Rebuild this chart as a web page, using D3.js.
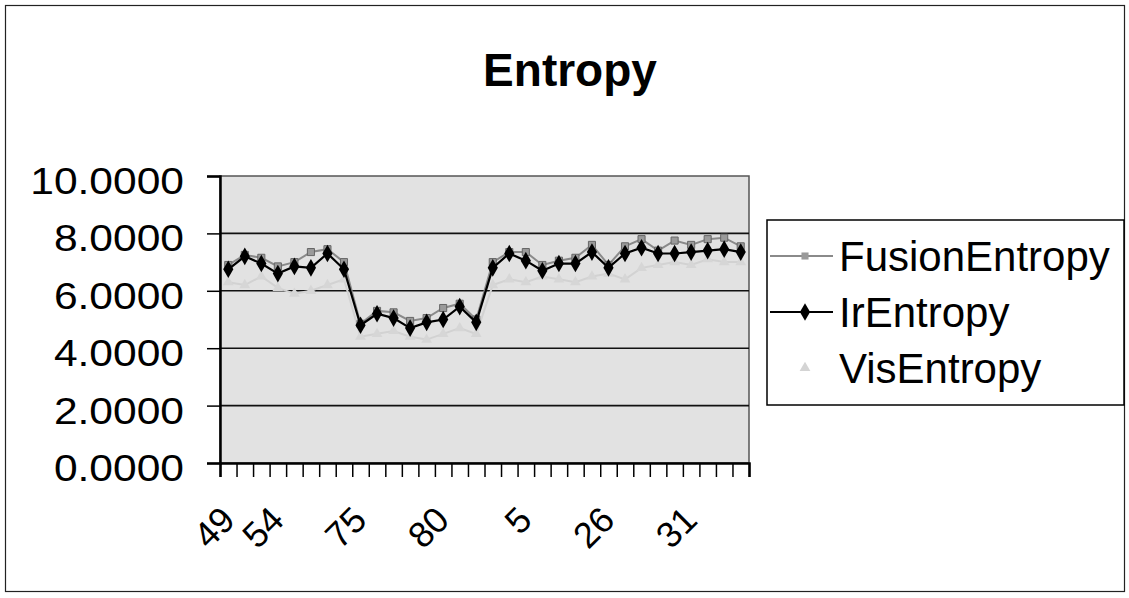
<!DOCTYPE html>
<html>
<head>
<meta charset="utf-8">
<script src="https://cdn.jsdelivr.net/npm/d3@7"></script>
<style>
  html, body { margin: 0; padding: 0; background: #fff; }
  text { font-family: "Liberation Sans", Arial, sans-serif; }
</style>
</head>
<body>
<div id="chart"></div>
<script>
// image ids along the x axis
const categories = [49, 50, 51, 52, 53, 54, 55, 56,
                    73, 74, 75, 76, 77, 78, 79, 80,
                    1, 2, 3, 4, 5,
                    22, 23, 24, 25, 26, 27, 28, 29, 30, 31, 32];

const fusionEntropy = [6.90, 7.25, 7.15, 6.85, 7.00, 7.35, 7.45, 7.00,
                       4.85, 5.30, 5.25, 4.95, 5.05, 5.40, 5.55, 5.00,
                       7.00, 7.35, 7.35, 6.90, 7.05, 7.15, 7.60, 6.90,
                       7.55, 7.80, 7.40, 7.75, 7.60, 7.80, 7.85, 7.55];

const irEntropy = [6.75, 7.20, 6.95, 6.60, 6.85, 6.80, 7.30, 6.75,
                   4.80, 5.20, 5.05, 4.70, 4.90, 5.00, 5.45, 4.90,
                   6.80, 7.30, 7.05, 6.70, 6.95, 6.95, 7.35, 6.80,
                   7.30, 7.50, 7.30, 7.30, 7.35, 7.40, 7.45, 7.35];

const visEntropy = [6.30, 6.20, 6.50, 6.10, 5.90, 6.00, 6.20, 6.40,
                    4.40, 4.50, 4.60, 4.40, 4.30, 4.50, 4.70, 4.50,
                    6.20, 6.40, 6.30, 6.50, 6.40, 6.30, 6.50, 6.60,
                    6.40, 6.80, 6.90, 7.00, 6.90, 7.10, 7.00, 7.00];

const yTicks = [0, 2, 4, 6, 8, 10];
const xLabelIdx = [0, 5, 10, 15, 20, 25, 30];
const seriesNames = ["FusionEntropy", "IrEntropy", "VisEntropy"];

const width = 1129, height = 598;
const plot = { left: 220, right: 749, top: 176, bottom: 463 };

const svg = d3.select("#chart").append("svg")
              .attr("width", width)
              .attr("height", height);

// outer frame
svg.append("rect")
   .attr("x", 5.5).attr("y", 5.5)
   .attr("width", 1119).attr("height", 586)
   .attr("fill", "none")
   .attr("stroke", "#222")
   .attr("stroke-width", 1.2);

// title
svg.append("text")
   .attr("x", 570).attr("y", 86)
   .attr("text-anchor", "middle")
   .attr("font-size", 46)
   .attr("font-weight", "bold")
   .text("Entropy");

// scales
const x = d3.scaleBand()
            .domain(d3.range(categories.length))
            .range([plot.left, plot.right]);
const xEdge = d3.scaleLinear()
                .domain([0, categories.length])
                .range([plot.left, plot.right]);
const y = d3.scaleLinear()
            .domain([0, 10])
            .range([plot.bottom, plot.top]);
const cx = i => x(i) + x.bandwidth() / 2;

// plot area background
svg.append("rect")
   .attr("x", plot.left).attr("y", plot.top)
   .attr("width", plot.right - plot.left)
   .attr("height", plot.bottom - plot.top)
   .attr("fill", "#e2e2e2")
   .attr("stroke", "#555")
   .attr("stroke-width", 1.5);

// gridlines
svg.append("g")
   .selectAll("line")
   .data(yTicks.filter(d => d > 0 && d < 10))
   .enter()
   .append("line")
   .attr("x1", plot.left).attr("x2", plot.right)
   .attr("y1", d => y(d)).attr("y2", d => y(d))
   .attr("stroke", "#111")
   .attr("stroke-width", 1.6);

// y axis
const yAxis = svg.append("g")
   .attr("transform", `translate(${plot.left}, 0)`)
   .call(d3.axisLeft(y).tickValues(yTicks).tickSize(13).tickFormat(""));
yAxis.select(".domain").attr("stroke", "#000").attr("stroke-width", 2.5);
yAxis.selectAll(".tick line").attr("stroke", "#000").attr("stroke-width", 1.5);

svg.append("g")
   .selectAll("text")
   .data(yTicks)
   .enter()
   .append("text")
   .attr("transform", d => `translate(184, ${y(d) + 18}) scale(1.15, 1)`)
   .attr("text-anchor", "end")
   .attr("font-size", 37)
   .text(d => d3.format(".4f")(d));

// x axis
const xAxis = svg.append("g")
   .attr("transform", `translate(0, ${plot.bottom})`)
   .call(d3.axisBottom(xEdge).tickValues(d3.range(categories.length + 1)).tickSize(14).tickFormat(""));
xAxis.select(".domain").attr("stroke", "#000").attr("stroke-width", 2.5);
xAxis.selectAll(".tick line").attr("stroke", "#000").attr("stroke-width", 1.5);

// rotated labels, the first one is pushed right so it stays under the axis
svg.append("g")
   .selectAll("text")
   .data(xLabelIdx)
   .enter()
   .append("text")
   .attr("transform", d => `translate(${Math.max(cx(d) - 25, plot.left + 17)}, 522) rotate(-45)`)
   .attr("text-anchor", "end")
   .attr("font-size", 36)
   .text(d => categories[d]);

// series
const line = d3.line()
               .x((d, i) => cx(i))
               .y(d => y(d));

const diamond = d3.symbol().type(d3.symbolDiamond).size(90);
const square = d3.symbol().type(d3.symbolSquare).size(50);
const triangle = d3.symbol().type(d3.symbolTriangle).size(50);

// VisEntropy (very light, almost lost in the background)
svg.append("path")
   .attr("d", line(visEntropy))
   .attr("fill", "none")
   .attr("stroke", "#d2d2d2")
   .attr("stroke-width", 2);
svg.append("g")
   .selectAll("path")
   .data(visEntropy)
   .enter()
   .append("path")
   .attr("transform", (d, i) => `translate(${cx(i)}, ${y(d)})`)
   .attr("d", triangle)
   .attr("fill", "#d6d6d6");

// FusionEntropy
svg.append("path")
   .attr("d", line(fusionEntropy))
   .attr("fill", "none")
   .attr("stroke", "#8a8a8a")
   .attr("stroke-width", 2);
svg.append("g")
   .selectAll("path")
   .data(fusionEntropy)
   .enter()
   .append("path")
   .attr("transform", (d, i) => `translate(${cx(i)}, ${y(d)})`)
   .attr("d", square)
   .attr("fill", "#9a9a9a")
   .attr("stroke", "#666")
   .attr("stroke-width", 1);

// IrEntropy
svg.append("path")
   .attr("d", line(irEntropy))
   .attr("fill", "none")
   .attr("stroke", "#000")
   .attr("stroke-width", 2.2);
svg.append("g")
   .selectAll("path")
   .data(irEntropy)
   .enter()
   .append("path")
   .attr("transform", (d, i) => `translate(${cx(i)}, ${y(d)})`)
   .attr("d", diamond)
   .attr("fill", "#000");

// legend
const legend = svg.append("g");
legend.append("rect")
      .attr("x", 767).attr("y", 220)
      .attr("width", 357).attr("height", 185)
      .attr("fill", "#fff")
      .attr("stroke", "#000")
      .attr("stroke-width", 1.5);

const legendY = [256, 312, 368];
const legendLine = [{ stroke: "#8a8a8a", sym: square, fill: "#9a9a9a" },
                    { stroke: "#000", sym: diamond, fill: "#000" },
                    { stroke: null, sym: triangle, fill: "#d4d4d4" }];

seriesNames.forEach((name, i) => {
    const st = legendLine[i];
    if (st.stroke) {
        legend.append("line")
              .attr("x1", 770).attr("x2", 833)
              .attr("y1", legendY[i]).attr("y2", legendY[i])
              .attr("stroke", st.stroke)
              .attr("stroke-width", 2);
    }
    legend.append("path")
          .attr("transform", `translate(805, ${legendY[i]})`)
          .attr("d", st.sym)
          .attr("fill", st.fill);
    legend.append("text")
          .attr("x", 839).attr("y", legendY[i] + 15)
          .attr("font-size", 42)
          .text(name);
});
</script>
</body>
</html>
